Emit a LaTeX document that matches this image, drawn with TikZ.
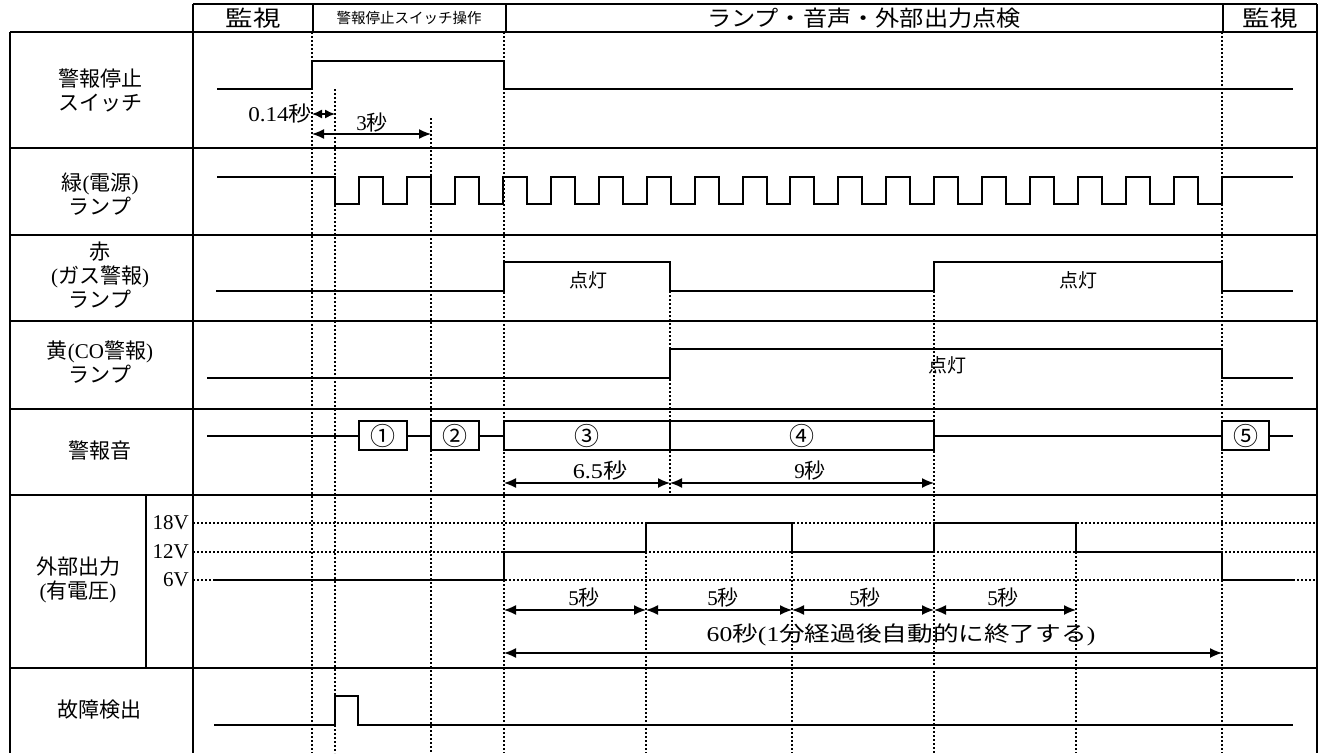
\documentclass[tikz,border=0pt]{standalone}
\usepackage{fontspec}
\setmainfont{Liberation Serif}
\newfontfamily\jp{Noto Sans CJK JP}
\usetikzlibrary{arrows.meta}
\begin{document}
\begin{tikzpicture}[x=1pt,y=-1pt,
  tbl/.style={line width=2.2pt},
  sig/.style={line width=2pt, line join=miter},
  grid/.style={line width=2.2pt, dash pattern=on 2pt off 2pt},
  hgrid/.style={line width=1.8pt, dash pattern=on 2pt off 2pt},
  dim/.style={line width=1.4pt, {Latex[length=12pt,width=10pt]}-{Latex[length=12pt,width=10pt]}},
  sdim/.style={line width=1.4pt, {Latex[length=10pt,width=9pt]}-{Latex[length=10pt,width=9pt]}},
  lab/.style={font=\jp\fontsize{21}{24}\selectfont, align=center, inner sep=0pt},
  hdr/.style={font=\jp\fontsize{22}{24}\selectfont, inner sep=0pt},
  txt/.style={font=\fontsize{21}{24}\selectfont, inner sep=0pt},
  box/.style={draw, line width=2pt, minimum height=29pt, inner sep=0pt, font=\jp\fontsize{25}{26}\selectfont},
]
\useasboundingbox (0,0) rectangle (1326,753);
% ---------- table ----------
\draw[tbl] (193,4) -- (1317,4);
\draw[tbl] (10,32) -- (1317,32);
\foreach \yy in {148,235,321,409,495,668} \draw[tbl] (10,\yy) -- (1317,\yy);
\draw[tbl] (10,32) -- (10,753);
\draw[tbl] (193,4) -- (193,753);
\draw[tbl] (1317,4) -- (1317,753);
\draw[tbl] (146,495) -- (146,668);
\foreach \xx in {313,506,1223} \draw[tbl] (\xx,4) -- (\xx,32);
% header texts
\node[hdr] (h1) at (253,18) {\scalebox{1.25}[1]{監視}};
\node[font=\jp\fontsize{14.5}{16}\selectfont, inner sep=0pt] (h2) at (409,18) {警報停止スイッチ操作};
\node[hdr] (h3) at (864,18) {\scalebox{1.1}[1]{ランプ・音声・外部出力点検}};
\node[hdr] (h4) at (1270,18) {\scalebox{1.25}[1]{監視}};
% row labels
\node[lab] (lsw) at (100,90) {警報停止\\スイッチ};
\node[lab] (lgr) at (100,194) {緑{\rmfamily(}電源{\rmfamily)}\\ランプ};
\node[lab] (lred) at (100,275) {赤\\{\rmfamily(}ガス警報{\rmfamily)}\\ランプ};
\node[lab] (lyel) at (100,362) {黄{\rmfamily(CO}警報{\rmfamily)}\\ランプ};
\node[lab] (lsnd) at (100,451) {警報音};
\node[lab] (lext) at (78,580) {外部出力\\{\rmfamily(}有電圧{\rmfamily)}};
\node[lab] (lflt) at (99,710) {故障検出};
% voltage levels
\node[txt, anchor=east] (v18) at (189,523) {18V};
\node[txt, anchor=east] (v12) at (189,552) {12V};
\node[txt, anchor=east] (v6) at (189,580) {6V};
\foreach \yy in {523,552,580} \draw[hgrid] (193,\yy) -- (1317,\yy);
% ---------- dotted time marks ----------
\draw[grid] (312,32) -- (312,753);
\draw[grid] (335,89) -- (335,753);
\draw[grid] (431,118) -- (431,753);
\draw[grid] (504,32) -- (504,753);
\draw[grid] (670,291) -- (670,495);
\draw[grid] (646,552) -- (646,753);
\draw[grid] (792,552) -- (792,753);
\draw[grid] (934,291) -- (934,753);
\draw[grid] (1076,552) -- (1076,753);
\draw[grid] (1222,32) -- (1222,753);
% ---------- signals ----------
\draw[sig] (217,89) -- (312,89) -- (312,61) -- (504,61) -- (504,89) -- (1293,89);
\draw[sig] (217,177) -- (335,177)
  \foreach \k in {1,...,18}{ -- ++(0,27) -- ++(23.973,0) -- ++(0,-27) -- ++(23.973,0)}
  -- ++(0,27) -- ++(23.973,0) -- ++(0,-27) -- (1293,177);
\draw[sig] (216,291) -- (504,291) -- (504,262) -- (670,262) -- (670,291) -- (934,291) -- (934,262) -- (1222,262) -- (1222,291) -- (1293,291);
\node[font=\jp\fontsize{19}{20}\selectfont, inner sep=0pt] (on1) at (588,280) {点灯};
\node[font=\jp\fontsize{19}{20}\selectfont, inner sep=0pt] (on2) at (1078,280) {点灯};
\draw[sig] (207,378) -- (670,378) -- (670,349) -- (1222,349) -- (1222,378) -- (1293,378);
\node[font=\jp\fontsize{19}{20}\selectfont, inner sep=0pt] (on3) at (947,365) {点灯};
% alarm sound
\node[box, minimum width=48pt] (b1) at (383,435.5) {①};
\node[box, minimum width=48pt] (b2) at (455,435.5) {②};
\node[box, minimum width=166pt] (b3) at (587,435.5) {③};
\node[box, minimum width=264pt] (b4) at (802,435.5) {④};
\node[box, minimum width=47pt] (b5) at (1245.5,435.5) {⑤};
\coordinate (s0) at (207,435.5);
\coordinate (s9) at (1293,435.5);
\draw[sig] (s0) -- (b1.west);
\draw[sig] (b1.east) -- (b2.west);
\draw[sig] (b2.east) -- (b3.west);
\draw[sig] (b4.east) -- (b5.west);
\draw[sig] (b5.east) -- (s9);
% external output
\draw[sig] (214,580) -- (504,580) -- (504,552) -- (646,552) -- (646,523) -- (792,523) -- (792,552) -- (934,552) -- (934,523) -- (1076,523) -- (1076,552) -- (1222,552) -- (1222,580) -- (1293,580);
% fault detection
\draw[sig] (214,725) -- (335,725) -- (335,696) -- (358,696) -- (358,725) -- (1293,725);
% ---------- dimensions ----------
\draw[sdim] (312,114) -- (335,114);
\node[txt, anchor=east] (t014) at (312,114) {\scalebox{1.1}[1]{0.14{\jp 秒}}};
\draw[dim] (312,134) -- (431,134);
\node[txt] (t3) at (372,123) {3{\jp 秒}};
\draw[dim] (504,483) -- (670,483);
\node[txt] (t65) at (600,471) {\scalebox{1.15}[1]{6.5{\jp 秒}}};
\draw[dim] (670,483) -- (934,483);
\node[txt] (t9) at (810,471) {9{\jp 秒}};
\draw[dim] (504,610) -- (646,610);
\draw[dim] (646,610) -- (792,610);
\draw[dim] (792,610) -- (934,610);
\draw[dim] (934,610) -- (1076,610);
\node[txt] (t5a) at (584,598) {5{\jp 秒}};
\node[txt] (t5b) at (723,598) {5{\jp 秒}};
\node[txt] (t5c) at (865,598) {5{\jp 秒}};
\node[txt] (t5d) at (1003,598) {5{\jp 秒}};
\draw[dim] (504,653) -- (1222,653);
\node[txt] (t60) at (901,635) {\scalebox{1.22}[1]{60{\jp 秒}(1{\jp 分経過後自動的に終了する})}};
\end{tikzpicture}
\end{document}
